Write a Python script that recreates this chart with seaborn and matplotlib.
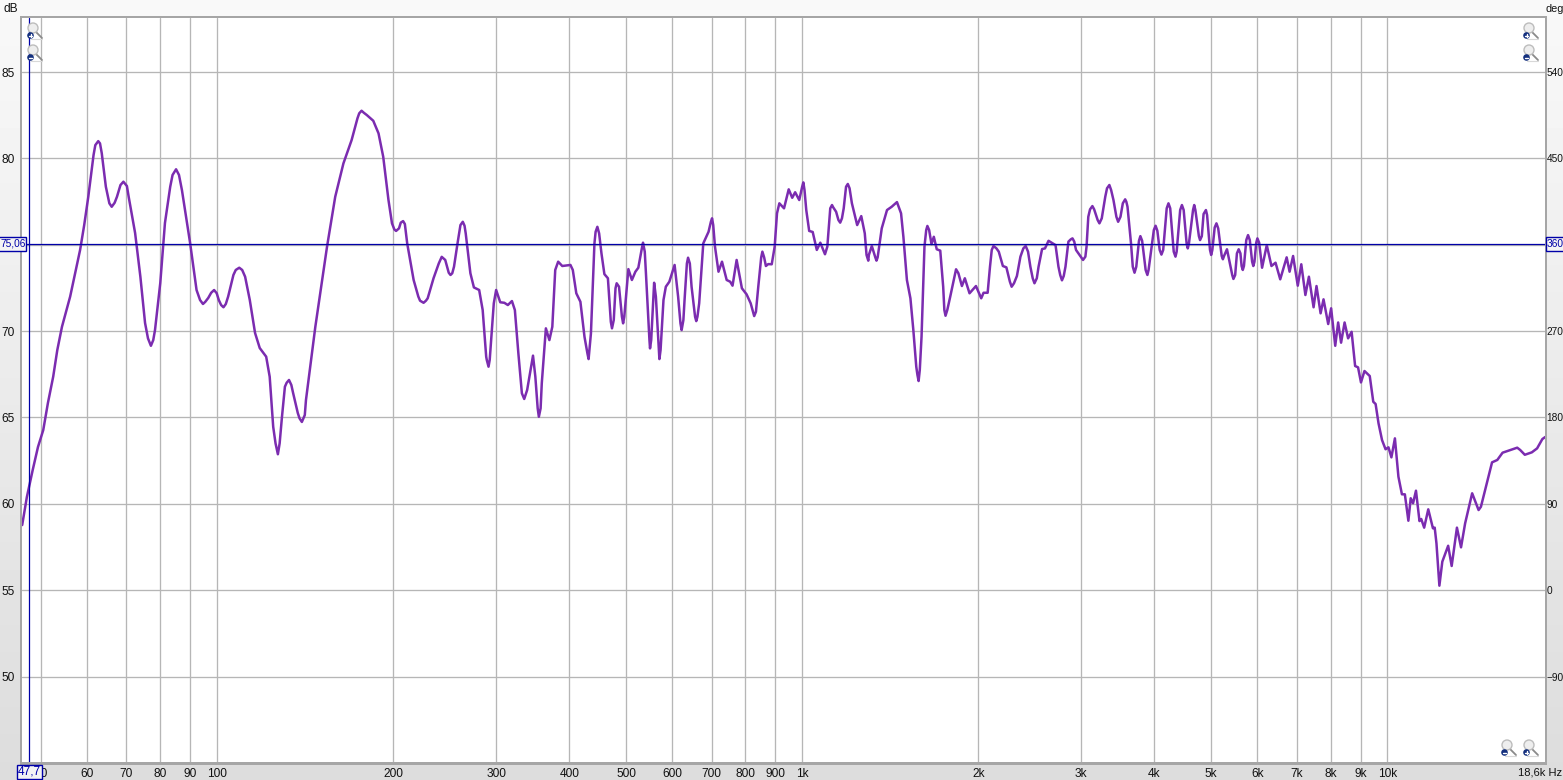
import numpy as np
import matplotlib
matplotlib.use("Agg")
import matplotlib.pyplot as plt
from matplotlib.patches import Rectangle, Circle
from matplotlib.lines import Line2D
from matplotlib.transforms import Affine2D
import seaborn as sns

# log10(frequency in Hz) and level in dB, band by band
log_hz_a = [1.667,1.675,1.685,1.694,1.703,1.711,1.720,1.727,1.735,1.749,
            1.766,1.773,1.780,1.789,1.797,1.803,1.810,1.820,1.829,1.840,
            1.849,1.860,1.869,1.877,1.887,1.894,1.903,1.911,1.920,1.930,
            1.940,1.954,1.965,1.976,1.985,1.995,2.003,2.011,2.019,2.028,
            2.038,2.048,2.056,2.065,2.073,2.084,2.090,2.096,2.104,2.111,
            2.116,2.123,2.130,2.138,2.145,2.152,2.168,2.188,2.202,2.216,
            2.230,2.240,2.247,2.256,2.267,2.276,2.284,2.293,2.299,2.306,
            2.318,2.325,2.336,2.344,2.353,2.360,2.370,2.379,2.384,2.390,
            2.399,2.405,2.411,2.420,2.425,2.433,2.439,2.448,2.454,2.460,
            2.464,2.468,2.473,2.477,2.484,2.491,2.497,2.504,2.509,2.515]
db_a = [58.77,60.39,61.96,63.29,64.27,65.84,67.36,68.90,70.25,72.00,
        74.70,76.14,77.78,80.20,81.00,80.30,78.36,77.20,77.78,78.65,
        77.78,75.68,73.15,70.47,69.15,70.06,72.78,76.26,78.36,79.37,
        78.17,75.10,72.38,71.57,71.92,72.38,71.80,71.38,72.00,73.25,
        73.67,73.15,71.80,69.89,69.02,68.52,67.36,64.46,62.87,65.04,
        66.78,67.17,66.42,65.26,64.74,66.01,70.25,74.89,77.78,79.71,
        81.06,82.32,82.76,82.51,82.18,81.45,80.10,77.59,76.24,75.80,
        76.37,75.08,72.96,72.00,71.64,71.90,73.06,73.92,74.30,74.12,
        73.25,73.73,75.08,76.33,75.66,73.35,72.53,72.38,71.22,68.52,
        67.94,69.29,71.61,72.38,71.67,71.64,71.51,71.74,71.22,68.71]

log_hz_b = [2.521,2.525,2.530,2.540,2.544,2.550,2.555,2.562,2.568,2.573,
            2.578,2.583,2.590,2.604,2.608,2.614,2.621,2.628,2.635,2.639,
            2.645,2.650,2.657,2.662,2.668,2.675,2.683,2.687,2.694,2.703,
            2.709,2.715,2.720,2.728,2.733,2.740,2.747,2.750,2.756,2.763,
            2.767,2.773,2.782,2.788,2.794,2.799,2.805,2.811,2.819,2.824,
            2.831,2.840,2.846,2.851,2.857,2.863,2.871,2.877,2.881,2.888,
            2.897,2.905,2.912,2.918,2.925,2.932,2.938,2.942,2.948,2.953,
            2.957,2.961,2.969,2.977,2.983,2.988,2.995,3.002,3.007,3.012,
            3.018,3.025,3.031,3.039,3.043,3.051,3.058,3.065,3.071,3.078,
            3.085,3.094,3.101,3.107,3.113,3.119,3.127,3.136,3.145,3.153]
db_b = [66.40,66.07,66.59,68.58,67.36,65.04,66.98,70.16,69.48,70.25,
        73.54,74.02,73.77,73.83,73.54,72.19,71.70,69.67,68.38,69.87,
        75.08,76.04,74.50,73.30,73.06,70.16,72.77,72.57,70.45,73.59,
        72.96,73.44,73.67,75.12,73.35,69.00,72.80,71.99,68.38,71.80,
        72.57,72.86,73.83,72.00,70.06,71.80,74.25,72.57,70.58,71.61,
        75.08,75.75,76.53,74.89,73.44,74.02,72.96,72.86,72.63,74.12,
        72.48,72.13,71.61,70.87,72.57,74.60,73.77,73.88,73.87,74.89,
        76.82,77.40,77.11,78.21,77.72,78.04,77.59,78.61,77.01,75.80,
        75.74,74.70,75.12,74.45,74.89,77.30,76.91,76.28,77.11,78.52,
        77.40,76.14,76.66,75.66,74.08,74.93,74.08,75.95,77.01,77.20]

log_hz_c = [3.162,3.169,3.173,3.179,3.185,3.190,3.195,3.199,3.204,3.209,
            3.214,3.221,3.225,3.230,3.236,3.241,3.245,3.253,3.263,3.267,
            3.273,3.278,3.286,3.297,3.306,3.310,3.317,3.321,3.327,3.336,
            3.343,3.349,3.358,3.367,3.373,3.382,3.390,3.397,3.404,3.410,
            3.415,3.421,3.433,3.438,3.444,3.450,3.455,3.462,3.468,3.480,
            3.486,3.489,3.496,3.508,3.518,3.525,3.532,3.540,3.552,3.556,
            3.562,3.568,3.578,3.590,3.604,3.614,3.626,3.638,3.649,3.659,
            3.670,3.680,3.690,3.699,3.708,3.719,3.726,3.737,3.746,3.753,
            3.762,3.771,3.778,3.786,3.794,3.802,3.809,3.817,3.828,3.833,
            3.839,3.847,3.853,3.860,3.866,3.874,3.879,3.886,3.891,3.899]
db_c = [77.47,76.82,75.46,72.96,71.90,70.06,67.94,67.11,69.67,74.89,
        76.09,75.04,75.46,74.74,74.66,72.57,70.89,71.99,73.58,73.35,
        72.61,73.06,72.19,72.61,71.90,72.22,72.22,73.73,74.93,74.60,
        73.77,73.69,72.57,73.19,74.31,74.93,73.73,72.77,73.73,74.75,
        74.79,75.23,74.98,73.73,72.94,73.73,75.18,75.37,74.70,74.12,
        74.89,76.62,77.24,76.24,77.78,78.46,77.59,76.33,77.63,77.20,
        75.08,73.38,75.50,73.25,76.10,74.43,77.40,74.31,77.30,74.79,
        77.30,75.27,77.01,74.41,76.24,74.16,74.74,73.02,74.74,73.54,
        75.56,73.77,75.37,73.67,74.98,73.77,73.96,73.00,74.27,73.44,
        74.35,72.63,73.87,72.09,73.15,71.38,72.61,71.03,71.84,70.41]

log_hz_d = [3.904,3.911,3.916,3.921,3.927,3.933,3.939,3.945,3.950,3.955,
            3.961,3.970,3.976,3.980,3.985,3.991,3.997,4.002,4.007,4.013,
            4.019,4.025,4.030,4.036,4.040,4.044,4.049,4.055,4.058,4.063,
            4.070,4.078,4.081,4.084,4.089,4.094,4.104,4.110,4.119,4.126,
            4.133,4.145,4.156,4.160,4.179,4.188,4.197,4.215,4.222,4.227,
            4.235,4.247,4.256,4.265,4.270]
db_d = [71.32,69.15,70.50,69.33,70.50,69.58,69.96,67.98,67.90,67.03,
        67.69,67.40,65.91,65.78,64.66,63.69,63.16,63.27,62.69,63.79,
        61.57,60.55,60.55,59.02,60.32,60.03,60.76,59.00,59.12,58.62,
        59.68,58.58,58.62,57.71,55.26,56.65,57.57,56.40,58.62,57.48,
        58.87,60.61,59.64,59.83,62.40,62.54,62.96,63.17,63.25,63.12,
        62.84,62.98,63.21,63.75,63.87]

# further readings on the shoulders of the peaks and dips
log_hz_low_sh = [1.792,1.800,1.816,1.825,1.835,1.846,1.882,1.891,1.924,1.935,
                 1.971,1.980,1.990,1.9995,2.007,2.015,2.032,2.043,2.100,2.107,
                 2.119,2.127,2.141,2.150,2.243,2.251,2.303,2.311,2.314,2.321]
db_low_sh = [80.77,80.87,77.40,77.43,78.46,78.40,69.58,69.48,79.04,79.04,
             71.80,71.70,72.22,72.19,71.51,71.57,73.54,73.54,63.50,63.50,
             67.01,66.88,64.95,65.14,82.61,82.64,75.89,75.95,76.28,76.20]

log_hz_mid_sh = [2.347,2.357,2.396,2.402,2.416,2.423,2.461,2.466,2.548,2.553,
                 2.633,2.647,2.653,2.673,2.678,2.681,2.692,2.696,2.726,2.731,
                 2.739,2.742,2.755,2.758,2.792,2.797,2.803,2.808,2.817,2.821,
                 2.844,2.848,2.916,2.921,2.930,2.935,3.000,3.004]
db_mid_sh = [71.76,71.76,73.38,73.35,76.14,76.10,68.33,68.33,65.53,65.53,
             68.71,75.75,75.66,70.54,70.64,72.48,70.83,70.83,74.79,74.60,
             69.48,69.48,68.90,68.90,70.45,70.64,73.92,73.92,70.83,70.83,
             76.33,76.14,71.12,71.12,74.27,74.27,78.36,78.17]

log_hz_k_sh = [3.048,3.053,3.062,3.068,3.075,3.081,3.110,3.114,3.125,3.129,
               3.197,3.201,3.212,3.217,3.243,3.248,3.324,3.332,3.355,3.362,
               3.378,3.386,3.394,3.401,3.441,3.447,3.459,3.465,3.477,3.484,
               3.492,3.499,3.505,3.512,3.521,3.528,3.537,3.544,3.548,3.554]
db_k_sh = [77.11,77.17,76.43,76.53,78.36,78.27,74.41,74.41,74.27,74.27,
           67.46,67.75,75.85,75.85,71.22,71.22,74.70,74.79,72.86,72.77,
           74.79,74.60,73.06,73.06,73.25,73.19,75.31,75.18,74.27,74.31,
           77.05,77.05,76.43,76.53,78.27,78.17,76.62,76.62,77.40,77.49]

log_hz_ripple_sh = [3.565,3.571,3.5756,3.581,3.587,3.592,3.601,3.607,3.611,3.617,
                    3.623,3.629,3.635,3.640,3.646,3.652,3.657,3.661,3.668,3.672,
                    3.678,3.683,3.686,3.692,3.697,3.701,3.705,3.711,3.717,3.721,
                    3.735,3.740,3.743,3.749,3.751,3.755,3.759,3.765,3.769,3.773,
                    3.776,3.781]
db_ripple_sh = [73.73,73.73,75.23,75.23,73.54,73.54,75.85,75.81,74.70,74.70,
                77.11,77.11,74.60,74.60,77.01,77.01,75.08,75.08,77.01,77.01,
                75.50,75.50,76.78,76.72,74.70,74.70,76.00,75.95,74.35,74.35,
                73.25,73.25,74.50,74.50,73.77,73.77,75.27,75.27,74.02,74.02,
                75.12,75.12]

x_ticks_hz = [50,60,70,80,90,100,200,300,400,500,600,700,800,900,1000,2000,3000,
              4000,5000,6000,7000,8000,9000,10000]
x_labels = ["50","60","70","80","90","100","200","300","400","500","600","700","800",
            "900","1k","2k","3k","4k","5k","6k","7k","8k","9k","10k"]
db_ticks = [85,80,70,65,60,55,50]
db_grid = [85,80,75,70,65,60,55,50]
deg_ticks = [540,450,270,180,90,0,-90]
cursor_hz = 47.7
cursor_db = 75.06

W, H = 1563, 780
FONT = "Liberation Sans"
FS = 8.6
FS_EDGE = 7.3
BLUE = "#0000a8"
sns.set_style("white")
plt.rcParams["font.family"] = [FONT, "DejaVu Sans"]

fig = plt.figure(figsize=(W/100, H/100), dpi=100)
px = Affine2D().scale(1/W, -1/H).translate(0, 1) + fig.transFigure

bg = fig.add_axes([0, 0, 1, 1], zorder=0)
bg.imshow(np.linspace(0.975, 0.865, 256).reshape(-1, 1), cmap="gray", vmin=0, vmax=1,
          aspect="auto", extent=[0, 1, 0, 1])
bg.axis("off")
fig.add_artist(Rectangle((20, 15.5), 1526.5, 749, transform=px, fc="#a6a6a6", ec="none", zorder=0.5))

L, R, T, B = 22, 1545, 18, 762
ax = fig.add_axes([L/W, 1-B/H, (R-L)/W, (B-T)/H], zorder=1)
log_hz = np.array(log_hz_a + log_hz_b + log_hz_c + log_hz_d
                  + log_hz_low_sh + log_hz_mid_sh + log_hz_k_sh + log_hz_ripple_sh)
level = np.array(db_a + db_b + db_c + db_d
                 + db_low_sh + db_mid_sh + db_k_sh + db_ripple_sh)
freq = 10 ** log_hz

ax.set_xscale("log")
ax.set_xlim(10**1.6667, 10**4.2695)
ax.set_ylim(45.05, 88.13)
for f in x_ticks_hz:
    ax.axvline(f, color="#b6b6b6", lw=0.95, zorder=1)
for d in db_grid:
    ax.axhline(d, color="#b6b6b6", lw=0.95, zorder=1)

sns.lineplot(x=freq, y=level, ax=ax, estimator=None, sort=True, color="#7b2cb0",
             lw=1.8, zorder=3, solid_joinstyle="round")
ax.axhline(cursor_db, color=BLUE, lw=0.9, zorder=4)
ax.axvline(cursor_hz, color=BLUE, lw=0.9, zorder=4)

ax.set_xlabel("")
ax.set_ylabel("")
ax.set_xticks(x_ticks_hz)
ax.set_xticklabels(x_labels)
ax.minorticks_off()
ax.set_yticks(db_ticks)
ax.tick_params(axis="both", length=0, labelsize=FS, colors="#111111")
ax.tick_params(axis="x", pad=4)
ax.tick_params(axis="y", pad=5)
for s in ax.spines.values():
    s.set_visible(False)

sec = ax.secondary_yaxis("right", functions=(lambda v: (v-55)*18, lambda v: v/18+55))
sec.set_yticks(deg_ticks)
sec.tick_params(length=0, labelsize=FS_EDGE, pad=1.2, colors="#111111")
for s in sec.spines.values():
    s.set_visible(False)

def t(x, y, s, **kw):
    kw.setdefault("fontsize", FS)
    kw.setdefault("color", "#111111")
    kw.setdefault("va", "center")
    fig.text(x, y, s, transform=px, zorder=6, **kw)

t(3, 8.5, "dB")
t(1546, 8.5, "deg", fontsize=7.8)
t(1562, 772.5, "18,6k Hz", ha="right", fontsize=8.0)

# cursor read-outs
fig.add_artist(Rectangle((16.5, 764.5), 25, 14.5, transform=px, fc="#f4f4f4", ec=BLUE, lw=1, zorder=5))
t(29, 772, "47,7", ha="center", color=BLUE)
fig.add_artist(Rectangle((-3, 237), 29, 13.5, transform=px, fc="#f4f4f4", ec=BLUE, lw=1, zorder=5))
t(0.5, 244, "75,06", ha="left", color=BLUE, fontsize=FS_EDGE)
fig.add_artist(Rectangle((1546, 237), 23, 13.5, transform=px, fc="#f4f4f4", ec=BLUE, lw=1, zorder=5))
t(1546.5, 244, "360", ha="left", color=BLUE, fontsize=FS_EDGE)

def zoom_icon(cx, cy, sign):
    fig.add_artist(Line2D([cx+3, cx+9], [cy+4, cy+10], transform=px, color="#8a8a8a", lw=1.3, zorder=5))
    fig.add_artist(Line2D([cx-2, cx+9], [cy+10.5, cy+10.5], transform=px, color="#d8d8d8", lw=0.8, zorder=5))
    fig.add_artist(Circle((cx, cy), 5, transform=px, fc="#eeeeee", ec="#bdbdbd", lw=1, zorder=5))
    fig.add_artist(Circle((cx-2.5, cy+7.5), 3.3, transform=px, fc="#14307e", ec="none", zorder=6))
    fig.add_artist(Line2D([cx-4.3, cx-0.7], [cy+7.5, cy+7.5], transform=px, color="white", lw=1, zorder=7))
    if sign == "+":
        fig.add_artist(Line2D([cx-2.5, cx-2.5], [cy+5.7, cy+9.3], transform=px, color="white", lw=1, zorder=7))

for cx, cy, sign in [(33, 28, "+"), (33, 50, "-"), (1529, 28, "+"), (1529, 50, "-"),
                     (1507, 745, "-"), (1529, 745, "+")]:
    zoom_icon(cx, cy, sign)

fig.savefig("out.png", dpi=100)
